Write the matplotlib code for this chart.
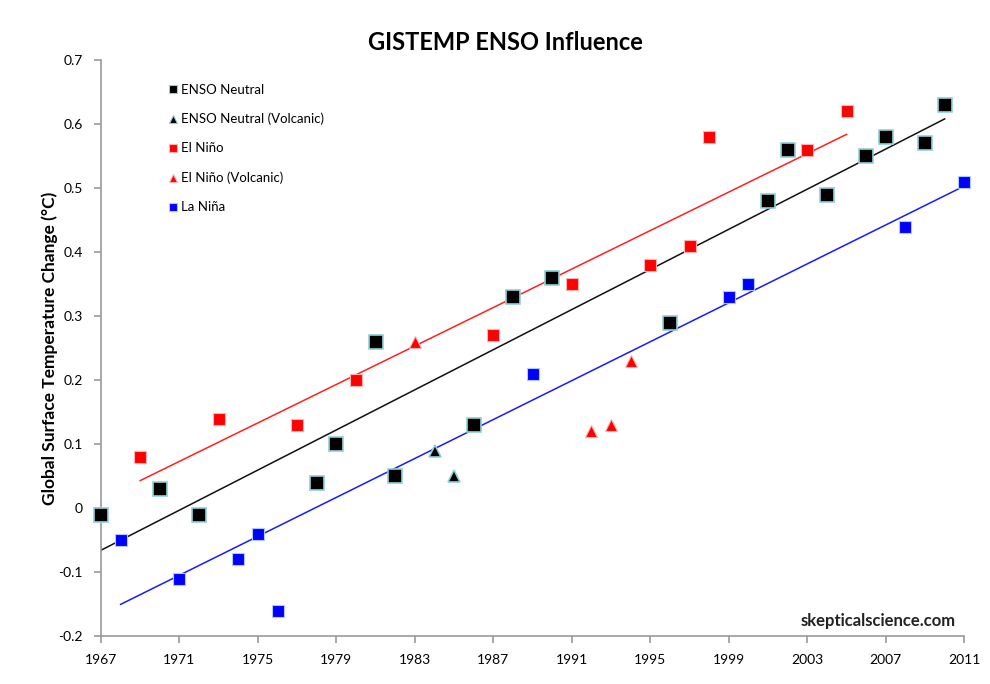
import numpy as np
import matplotlib
matplotlib.use('Agg')
import matplotlib.pyplot as plt
from matplotlib.ticker import FuncFormatter, MultipleLocator

plt.rcParams['font.family'] = ['Lato', 'DejaVu Sans']

# ENSO neutral years
neutral_years = [1967, 1970, 1972, 1978, 1979, 1981, 1982, 1986, 1988, 1990,
                 1996, 2001, 2002, 2004, 2006, 2007, 2009, 2010]
neutral_vals = [-0.01, 0.03, -0.01, 0.04, 0.10, 0.26, 0.05, 0.13, 0.33, 0.36,
                0.29, 0.48, 0.56, 0.49, 0.55, 0.58, 0.57, 0.63]

neutral_volc_years = [1984, 1985]
neutral_volc_vals = [0.09, 0.05]

# El Nino years
nino_years = [1969, 1973, 1977, 1980, 1987, 1991, 1995, 1997, 1998, 2003, 2005]
nino_vals = [0.08, 0.14, 0.13, 0.20, 0.27, 0.35, 0.38, 0.41, 0.58, 0.56, 0.62]

nino_volc_years = [1983, 1992, 1993, 1994]
nino_volc_vals = [0.26, 0.12, 0.13, 0.23]

# La Nina years
nina_years = [1968, 1971, 1974, 1975, 1976, 1989, 1999, 2000, 2008, 2011]
nina_vals = [-0.05, -0.11, -0.08, -0.04, -0.16, 0.21, 0.33, 0.35, 0.44, 0.51]

x_ticks = list(range(1967, 2012, 4))

fig = plt.figure(figsize=(9.9, 6.84), dpi=100)
ax = fig.add_axes([0.102, 0.070, 0.872, 0.842])

# Trend lines (linear fits, like the Excel trendlines)
def trend(years, vals, color):
    k, b = np.polyfit(years, vals, 1)
    xs = np.array([min(years), max(years)])
    ax.plot(xs, k * xs + b, color=color, lw=1.1, zorder=2)

trend(nino_years, nino_vals, '#ff2020')
trend(neutral_years, neutral_vals, '#111111')
trend(nina_years, nina_vals, '#1a1aff')

edge = '#8fd0d8'
ax.plot(neutral_years, neutral_vals, ls='none', marker='s', ms=10, mfc='black',
        mec=edge, mew=1.2, label='ENSO Neutral', zorder=3, clip_on=False)
ax.plot(neutral_volc_years, neutral_volc_vals, ls='none', marker='^', ms=9, mfc='black',
        mec=edge, mew=1.2, label='ENSO Neutral (Volcanic)', zorder=3, clip_on=False)
ax.plot(nino_years, nino_vals, ls='none', marker='s', ms=8.5, mfc='#ff0000',
        mec='#ffb0b0', mew=0.8, label='El Niño', zorder=3, clip_on=False)
ax.plot(nino_volc_years, nino_volc_vals, ls='none', marker='^', ms=8, mfc='#ff0000',
        mec='#ffb0b0', mew=0.8, label='El Niño (Volcanic)', zorder=3, clip_on=False)
ax.plot(nina_years, nina_vals, ls='none', marker='s', ms=8.5, mfc='#0000ff',
        mec='#b0c8ff', mew=0.8, label='La Niña', zorder=3, clip_on=False)

ax.set_xlim(1967, 2011)
ax.set_ylim(-0.2, 0.7)
ax.set_xticks(x_ticks)
ax.yaxis.set_major_locator(MultipleLocator(0.1))
ax.yaxis.set_major_formatter(FuncFormatter(lambda v, p: '0' if abs(v) < 1e-9 else '%.1f' % v))

for s in ['top', 'right']:
    ax.spines[s].set_visible(False)
for s in ['left', 'bottom']:
    ax.spines[s].set_color('#999999')
    ax.spines[s].set_linewidth(1.2)
ax.tick_params(colors='#999999', labelcolor='black', labelsize=10, length=5, width=1.2)
ax.tick_params(axis='x', pad=8)
ax.tick_params(axis='y', pad=8)

ax.set_ylabel('Global Surface Temperature Change (°C)', fontsize=12.5,
              fontweight='bold', labelpad=0)
fig.suptitle('GISTEMP ENSO Influence', x=0.511, y=0.955, fontsize=17, fontweight='bold')

leg = ax.legend(loc='upper left', bbox_to_anchor=(0.065, 0.98), frameon=False,
                fontsize=9.5, handlelength=0.6, handletextpad=0.3,
                labelspacing=1.3)
for h in leg.legend_handles:
    h.set_markersize(5.5)
    h.set_markeredgewidth(0.8)

ax.text(0.99, 0.012, 'skepticalscience.com', transform=ax.transAxes, ha='right',
        va='bottom', fontsize=12, fontweight='bold', color='#222222')

fig.savefig('out.png', dpi=100)
